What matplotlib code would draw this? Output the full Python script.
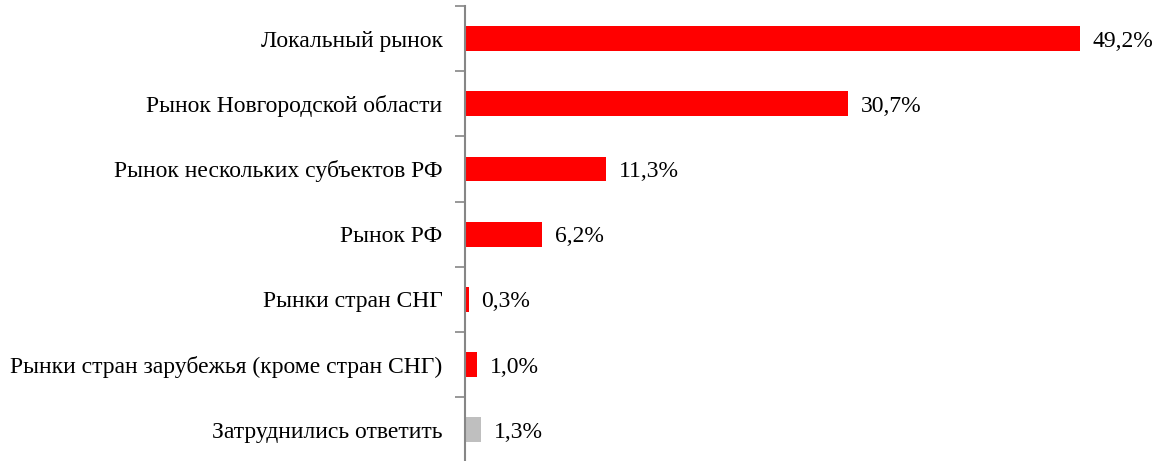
import matplotlib
matplotlib.use('Agg')
import matplotlib.pyplot as plt
import numpy as np

categories = [
    'Локальный рынок',
    'Рынок Новгородской области',
    'Рынок нескольких субъектов РФ',
    'Рынок РФ',
    'Рынки стран СНГ',
    'Рынки стран зарубежья (кроме стран СНГ)',
    'Затруднились ответить',
]
values = [49.2, 30.7, 11.3, 6.2, 0.3, 1.0, 1.3]
bar_colors = ['#FF0000'] * 6 + ['#BFBFBF']

plt.rcParams['font.family'] = ['Liberation Serif', 'DejaVu Serif']

fig = plt.figure(figsize=(11.59, 4.61), dpi=100)
ax = fig.add_axes([0.401, -0.003, 0.593, 0.99])

y = np.arange(len(categories))
ax.barh(y, values, height=0.38, color=bar_colors)

for yi, v in zip(y, values):
    ax.text(v + 1.0, yi, f'{v:.1f}%'.replace('.', ','), va='center_baseline',
            ha='left', fontsize=17)

ax.set_xlim(0, 55)
ax.set_ylim(len(categories) - 0.5, -0.5)

# подписи категорий по центрам, засечки на границах
ax.set_yticks(y)
ax.set_yticklabels(categories, fontsize=17)
ax.tick_params(axis='y', which='major', length=0, pad=16)
ax.set_yticks(np.arange(-0.5, len(categories), 1.0), minor=True)
ax.tick_params(axis='y', which='minor', length=7, width=1.2, color='#868686')

ax.set_xticks([])
for side in ['top', 'right', 'bottom']:
    ax.spines[side].set_visible(False)
ax.spines['left'].set_color('#868686')
ax.spines['left'].set_linewidth(1.5)

plt.savefig('out.png', dpi=100)
plt.close()
